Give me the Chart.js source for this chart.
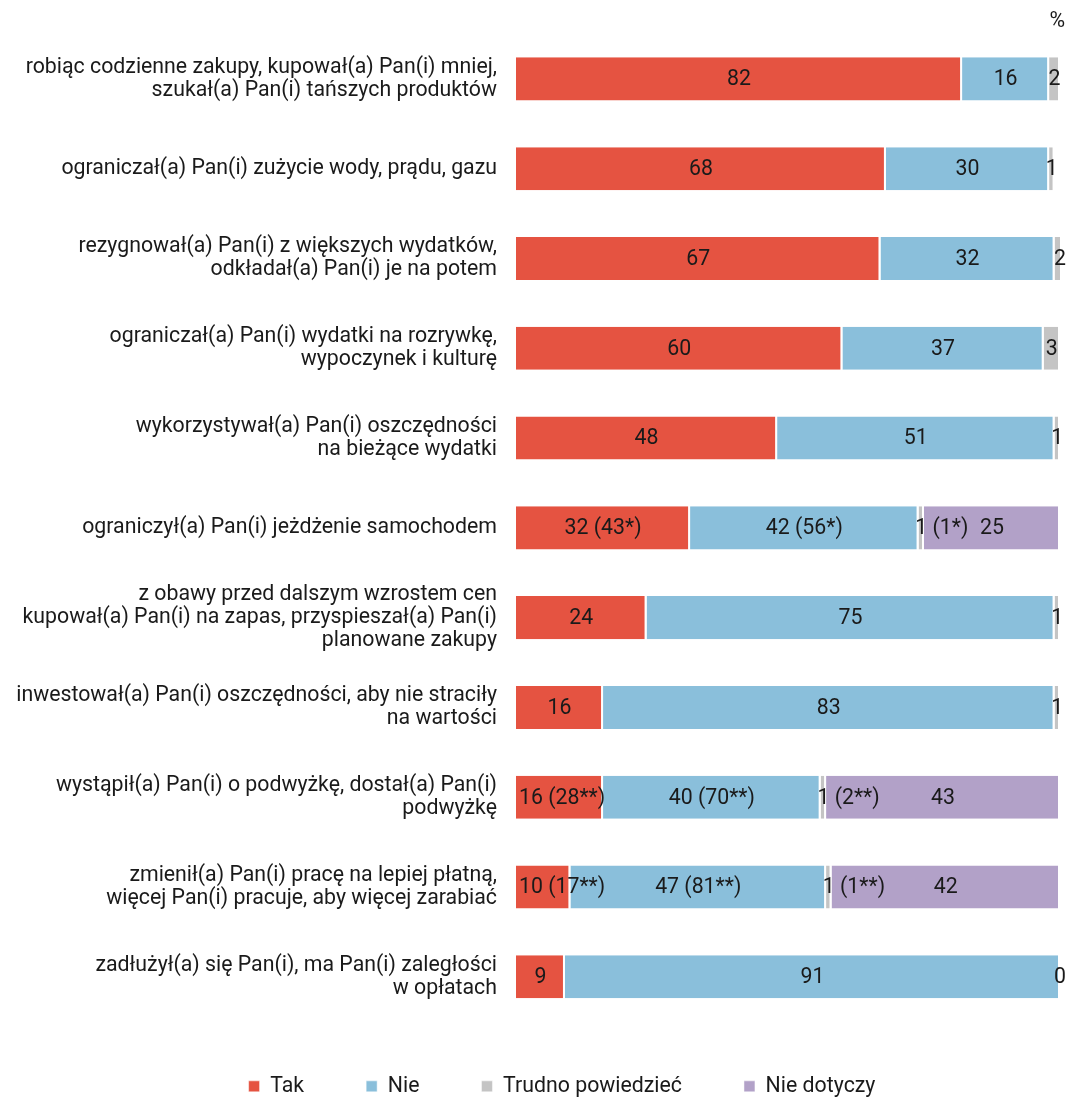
<!DOCTYPE html>
<html lang="pl">
<head>
<meta charset="utf-8">
<title>Wykres</title>
<script src="https://cdn.jsdelivr.net/npm/chart.js@4/dist/chart.umd.min.js"></script>
<style>
  html, body { margin: 0; padding: 0; background: #fff; }
  #wrap { width: 1069px; height: 1098px; }
</style>
</head>
<body>
<div id="wrap"><canvas id="chart"></canvas></div>
<script>
// Kategorie (oś Y)
const categories = [
    ['robiąc codzienne zakupy, kupował(a) Pan(i) mniej,', 'szukał(a) Pan(i) tańszych produktów'],
    'ograniczał(a) Pan(i) zużycie wody, prądu, gazu',
    ['rezygnował(a) Pan(i) z większych wydatków,', 'odkładał(a) Pan(i) je na potem'],
    ['ograniczał(a) Pan(i) wydatki na rozrywkę,', 'wypoczynek i kulturę'],
    ['wykorzystywał(a) Pan(i) oszczędności', 'na bieżące wydatki'],
    'ograniczył(a) Pan(i) jeżdżenie samochodem',
    ['z obawy przed dalszym wzrostem cen', 'kupował(a) Pan(i) na zapas, przyspieszał(a) Pan(i)', 'planowane zakupy'],
    ['inwestował(a) Pan(i) oszczędności, aby nie straciły', 'na wartości'],
    ['wystąpił(a) Pan(i) o podwyżkę, dostał(a) Pan(i)', 'podwyżkę'],
    ['zmienił(a) Pan(i) pracę na lepiej płatną,', 'więcej Pan(i) pracuje, aby więcej zarabiać'],
    ['zadłużył(a) się Pan(i), ma Pan(i) zaległości', 'w opłatach']
];

// Wartości serii (%)
const takValues    = [82, 68, 67, 60, 48, 32, 24, 16, 16, 10, 9];
const nieValues    = [16, 30, 32, 37, 51, 42, 75, 83, 40, 47, 91];
const trudnoValues = [2, 1, 2, 3, 1, 1, 1, 1, 1, 1, 0];
const nieDotValues = [null, null, null, null, null, 25, null, null, 43, 42, null];

// Dopiski w nawiasach
const takNotes    = ['', '', '', '', '', '43*', '', '', '28**', '17**', ''];
const nieNotes    = ['', '', '', '', '', '56*', '', '', '70**', '81**', ''];
const trudnoNotes = ['', '', '', '', '', '1*', '', '', '2**', '1**', ''];

const seriesNames = ['Tak', 'Nie', 'Trudno powiedzieć', 'Nie dotyczy'];
const colors = ['#e55341', '#8abfdb', '#c4c4c4', '#b2a1c8'];
const unitText = '%';

function makeLabels(values, notes) {
    return values.map((v, i) => {
        if (v === null) return '';
        const n = notes && notes[i] ? ' (' + notes[i] + ')' : '';
        return v + n;
    });
}

const FONT = 'Roboto, "Noto Sans", sans-serif';
const FSIZE = 21.3;
Chart.defaults.font.family = FONT;
Chart.defaults.color = '#1a1a1a';

// Plugin rysujący etykiety wartości w środku segmentów (+ znak % w rogu)
const barLabels = {
    id: 'barLabels',
    afterDatasetsDraw(chart) {
        const ctx = chart.ctx;
        ctx.save();
        ctx.font = FSIZE + 'px ' + FONT;
        ctx.fillStyle = '#1a1a1a';
        ctx.textBaseline = 'middle';
        ctx.textAlign = 'left';
        chart.data.datasets.forEach((ds, di) => {
            const meta = chart.getDatasetMeta(di);
            meta.data.forEach((bar, i) => {
                const text = ds.valueLabels[i];
                if (!text) return;
                const cx = (bar.x + bar.base) / 2;
                let left;
                if (ds.anchorFirst) {
                    // pierwsza liczba na środku segmentu, reszta w prawo
                    const w0 = ctx.measureText(text.split(' ')[0]).width;
                    left = cx - w0 / 2;
                } else {
                    const w = ctx.measureText(text).width;
                    left = Math.max(cx - w / 2, bar.base + 3);
                }
                ctx.fillText(text, left, bar.y + 1);
            });
        });
        // jednostka nad wykresem
        ctx.textAlign = 'right';
        ctx.fillText(unitText, chart.width - 4, 22);
        ctx.restore();
    }
};

// Legenda: mniejszy margines pod spodem, lekko przesunięta w prawo i w górę
const legendFit = {
    id: 'legendFit',
    beforeInit(chart) {
        const fit = chart.legend.fit;
        chart.legend.fit = function () {
            fit.bind(chart.legend)();
            this.height -= 17;
        };
    },
    afterLayout(chart) {
        const lg = chart.legend;
        lg.left += 32;
        lg.right += 32;
        lg.top -= 8;
        lg.bottom = chart.height;
        lg.height = lg.bottom - lg.top;
    }
};

const valueSets = [takValues, nieValues, trudnoValues, nieDotValues];
const labelSets = [
    makeLabels(takValues, takNotes),
    makeLabels(nieValues, nieNotes),
    makeLabels(trudnoValues, trudnoNotes),
    makeLabels(nieDotValues, null)
];

const datasets = seriesNames.map((name, k) => ({
    label: name,
    data: valueSets[k],
    valueLabels: labelSets[k],
    anchorFirst: k === 2,
    backgroundColor: colors[k],
    borderColor: '#ffffff',
    borderWidth: { left: 0, right: 2, top: 0, bottom: 0 },
    borderSkipped: false,
    categoryPercentage: 1,
    barPercentage: 0.48
}));

const config = {
    type: 'bar',
    data: { labels: categories, datasets: datasets },
    options: {
        indexAxis: 'y',
        responsive: true,
        maintainAspectRatio: false,
        animation: false,
        layout: { padding: { left: 0, right: 9, top: 34, bottom: 0 } },
        scales: {
            x: {
                stacked: true,
                min: 0,
                max: 100,
                display: false
            },
            y: {
                stacked: true,
                grid: { display: false, drawTicks: false },
                border: { display: false },
                ticks: {
                    color: '#1a1a1a',
                    padding: 19,
                    font: { size: FSIZE, lineHeight: 1.08 }
                },
                afterFit(scale) {
                    scale.width = 516;
                    scale.paddingTop = 0;
                    scale.paddingBottom = 0;
                }
            }
        },
        plugins: {
            legend: {
                position: 'bottom',
                labels: {
                    boxWidth: 11,
                    boxHeight: 11,
                    padding: 62,
                    color: '#1a1a1a',
                    font: { size: FSIZE }
                }
            },
            tooltip: { enabled: false }
        }
    },
    plugins: [barLabels, legendFit]
};

const chart = new Chart(document.getElementById('chart'), config);
</script>
</body>
</html>
